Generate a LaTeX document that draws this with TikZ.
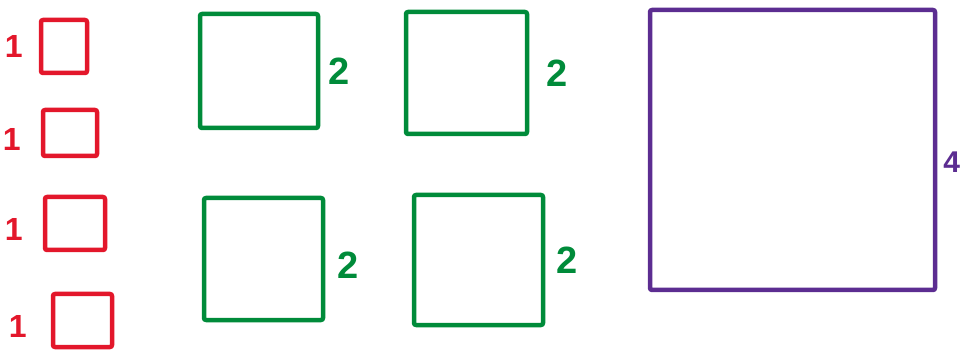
\documentclass[tikz,border=0pt]{standalone}
\usepackage{fontspec}
\setmainfont{Liberation Sans}
\usetikzlibrary{positioning}
\definecolor{penred}{HTML}{E3172B}
\definecolor{pengreen}{HTML}{008B3A}
\definecolor{penpurple}{HTML}{5C2D91}
\tikzset{
  sq/.style={rectangle, draw, line width=4.5pt, line cap=round, line join=round, rounded corners=2pt, inner sep=0pt},
  lbl/.style={inner sep=0pt, font=\fontsize{38}{38}\bfseries\selectfont},
}

\begin{document}
\begin{tikzpicture}[x=1pt, y=-1pt,
  one/.style={sq, draw=penred},
  two/.style={sq, draw=pengreen},
  four/.style={sq, draw=penpurple}]
\useasboundingbox (0,0) rectangle (960,352);
% unit squares
\node[one, minimum width=46pt, minimum height=53pt] (r1) at (64,46.5) {};
\node[one, minimum width=54pt, minimum height=46pt] (r2) at (70,133) {};
\node[one, minimum width=60pt, minimum height=53pt] (r3) at (75,223.5) {};
\node[one, minimum width=59pt, minimum height=53pt] (r4) at (82.5,320.5) {};
\node[lbl, penred, left=16pt of r1, font=\fontsize{32}{32}\bfseries\selectfont] (l1) {1};
\node[lbl, penred, left=20pt of r2, yshift=-6pt, font=\fontsize{32}{32}\bfseries\selectfont] (l2) {1};
\node[lbl, penred, left=20pt of r3, yshift=-6pt, font=\fontsize{32}{32}\bfseries\selectfont] (l3) {1};
\node[lbl, penred, left=24pt of r4, yshift=-6pt, font=\fontsize{32}{32}\bfseries\selectfont] (l4) {1};
% side two
\node[two, minimum width=118pt, minimum height=114pt] (g1) at (259,71) {};
\node[two, minimum width=121pt, minimum height=122pt] (g2) at (466.5,73) {};
\node[two, minimum width=119pt, minimum height=122pt] (g3) at (263.5,259) {};
\node[two, minimum width=129pt, minimum height=130pt] (g4) at (478.5,260) {};
\node[lbl, pengreen, right=8pt of g1] (m1) {2};
\node[lbl, pengreen, right=17pt of g2] (m2) {2};
\node[lbl, pengreen, right=12pt of g3, yshift=-6pt] (m3) {2};
\node[lbl, pengreen, right=11pt of g4] (m4) {2};
% side four
\node[four, minimum width=285pt, minimum height=280pt] (p1) at (792.5,150) {};
\node[lbl, penpurple, right=6pt of p1, yshift=-12pt, font=\fontsize{30}{30}\bfseries\selectfont] (n1) {4};
\end{tikzpicture}
\end{document}
